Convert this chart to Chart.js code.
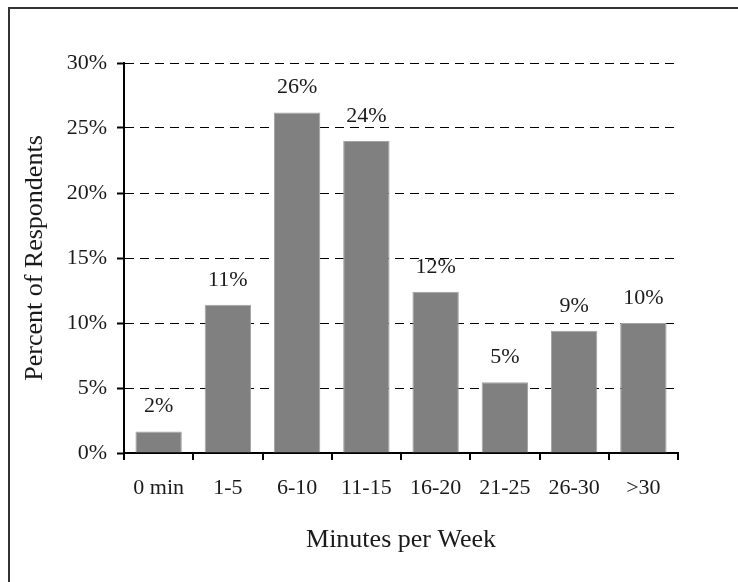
<!DOCTYPE html>
<html>
<head>
<meta charset="utf-8">
<script src="https://cdn.jsdelivr.net/npm/chart.js@4"></script>
<style>
  html, body { margin: 0; padding: 0; background: #fff; overflow: hidden; }
  .frame { position: absolute; left: 8px; top: 7px; width: 760px; height: 600px;
           border-top: 2px solid #333; border-left: 2px solid #333; }
  .wrap { position: absolute; left: 0; top: 0; width: 738px; height: 582px; }
</style>
</head>
<body>
<div class="frame"></div>
<div class="wrap"><canvas id="chart" width="738" height="582"></canvas></div>
<script>
const categories = ['0 min', '1-5', '6-10', '11-15', '16-20', '21-25', '26-30', '>30'];
const percentValues = [1.65, 11.4, 26.2, 24.0, 12.4, 5.45, 9.4, 10.0];
const yTicks = [0, 5, 10, 15, 20, 25, 30];

const serif = "'Liberation Serif', 'DejaVu Serif', serif";
const textColor = '#1a1a1a';

// labels above each bar (rounded percent)
const barLabels = {
  id: 'barLabels',
  afterDatasetsDraw(chart) {
    const ctx = chart.ctx;
    const meta = chart.getDatasetMeta(0);
    ctx.save();
    ctx.font = '22px ' + serif;
    ctx.fillStyle = textColor;
    ctx.textAlign = 'center';
    ctx.textBaseline = 'middle';
    meta.data.forEach((bar, i) => {
      ctx.fillText(Math.round(percentValues[i]) + '%', bar.x, bar.y - 25);
    });
    ctx.restore();
  }
};

new Chart(document.getElementById('chart'), {
  type: 'bar',
  data: {
    labels: categories,
    datasets: [{
      data: percentValues,
      backgroundColor: '#808080',
      borderColor: '#a3a3a3',
      borderWidth: 1,
      categoryPercentage: 1,
      barPercentage: 0.67
    }]
  },
  options: {
    responsive: false,
    animation: false,
    layout: { padding: { left: 0, right: 60, top: 63, bottom: 0 } },
    plugins: {
      legend: { display: false },
      tooltip: { enabled: false }
    },
    scales: {
      x: {
        afterFit: (scale) => { scale.height = 129; },
        grid: {
          offset: true,
          drawOnChartArea: false,
          drawTicks: true,
          tickLength: 7,
          color: '#000',
          lineWidth: 2
        },
        border: { display: true, color: '#000', width: 2 },
        ticks: {
          font: { family: serif, size: 22 },
          color: textColor,
          padding: 15,
          maxRotation: 0,
          autoSkip: false
        },
        title: {
          display: true,
          text: 'Minutes per Week',
          font: { family: serif, size: 26 },
          color: textColor,
          padding: { top: 0, bottom: 26 }
        }
      },
      y: {
        min: 0,
        max: 30,
        afterFit: (scale) => { scale.width = 124; },
        afterBuildTicks: (scale) => { scale.ticks = yTicks.map(v => ({ value: v })); },
        grid: {
          color: '#000',
          lineWidth: 1,
          drawTicks: true,
          tickLength: 7,
          tickColor: '#000',
          tickWidth: 2
        },
        border: { display: true, color: '#000', width: 2, dash: [9, 6] },
        ticks: {
          font: { family: serif, size: 22 },
          color: textColor,
          padding: 10,
          callback: (v) => v + '%'
        },
        title: {
          display: true,
          text: 'Percent of Respondents',
          font: { family: serif, size: 26 },
          color: textColor,
          padding: { top: 20, bottom: 0 }
        }
      }
    }
  },
  plugins: [barLabels]
});
</script>
</body>
</html>
